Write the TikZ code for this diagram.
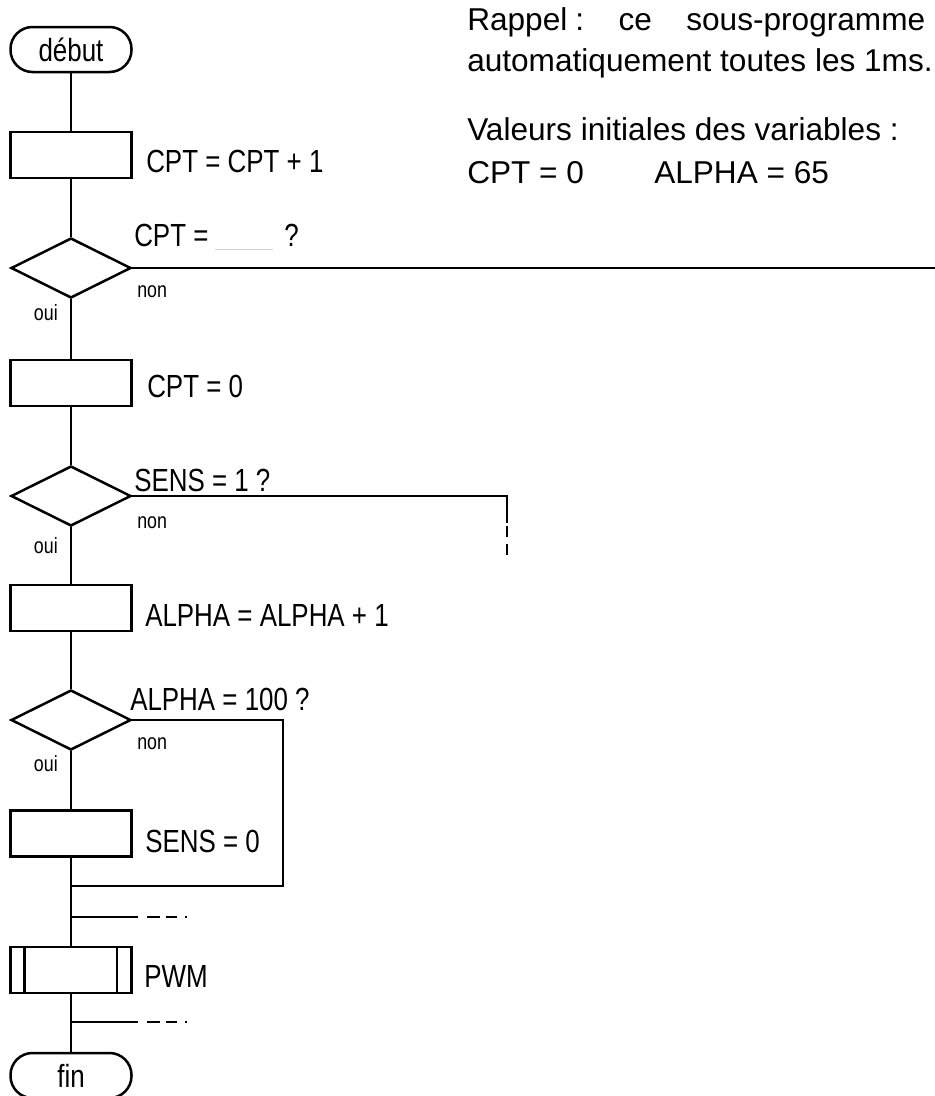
\documentclass[tikz,border=0pt]{standalone}
\usepackage{fontspec}
\setmainfont{Liberation Sans}
\newfontfamily\narrowfont[FakeStretch=0.81]{Liberation Sans}
\usetikzlibrary{shapes.geometric}
\begin{document}
\begin{tikzpicture}[x=1pt,y=-1pt,line width=2.5pt,
  proc/.style={draw,rectangle,minimum width=121pt,minimum height=46pt,inner sep=0pt},
  term/.style={draw,rectangle,rounded corners=22pt,minimum width=121pt,minimum height=45pt,inner sep=0pt,font=\narrowfont\fontsize{32}{36}\selectfont},
  test/.style={draw,diamond,minimum width=120pt,minimum height=60pt,inner sep=0pt},
  lbl/.style={anchor=base west,inner sep=0pt,font=\narrowfont\fontsize{32}{36}\selectfont},
  small/.style={inner sep=0pt,font=\narrowfont\fontsize{22}{24}\selectfont},
  note/.style={anchor=base west,inner sep=0pt,font=\fontsize{31.6}{36}\selectfont},
  brokenline/.style={dash pattern=on 13pt off 6pt on 11pt off 8pt on 2pt off 20pt},
  brokenv/.style={dash pattern=on 11pt off 7pt on 11pt off 20pt}]
\useasboundingbox (0,0) rectangle (935,1096);

% nodes of the flowchart
\node[term] (debut) at (71,49.5) {début};
\node[proc] (b1) at (71,155) {};
\node[test] (d1) at (71,268) {};
\node[proc] (b2) at (71,383) {};
\node[test] (d2) at (71,496) {};
\node[proc] (b3) at (71,608) {};
\node[test] (d3) at (71,720) {};
\node[proc] (b4) at (71,833.5) {};
\node[proc] (pwm) at (71,970) {};
\node[term] (fin) at (71,1075.5) {fin};
\draw ([xshift=15pt]pwm.north west) -- ([xshift=15pt]pwm.south west);
\draw ([xshift=-16pt]pwm.north east) -- ([xshift=-16pt]pwm.south east);

% coordinates
\coordinate (e1) at (935,268);
\coordinate (c2) at (507,496);
\coordinate (c2b) at (507,523);
\coordinate (c2c) at (507,526);
\coordinate (c2d) at (507,560);
\coordinate (c3) at (283,720);
\coordinate (c3b) at (283,886);
\coordinate (j1) at (71,886);
\coordinate (j2) at (71,917);
\coordinate (s2) at (138,917);
\coordinate (s2b) at (147,917);
\coordinate (s2c) at (200,917);
\coordinate (j3) at (71,1022);
\coordinate (s3) at (138,1022);
\coordinate (s3b) at (147,1022);
\coordinate (s3c) at (200,1022);

% connectors
\draw (debut.south) -- (b1.north);
\draw (b1.south) -- (d1.north);
\draw (d1.south) -- (b2.north);
\draw (b2.south) -- (d2.north);
\draw (d2.south) -- (b3.north);
\draw (b3.south) -- (d3.north);
\draw (d3.south) -- (b4.north);
\draw (b4.south) -- (pwm.north);
\draw (pwm.south) -- (fin.north);
\draw (d1.east) -- (e1);
\draw (d2.east) -- (c2) -- (c2b);
\draw[brokenv] (c2c) -- (c2d);
\draw (d3.east) -- (c3) -- (c3b) -- (j1);
\draw (j2) -- (s2);
\draw[brokenline] (s2b) -- (s2c);
\draw (j3) -- (s3);
\draw[brokenline] (s3b) -- (s3c);

% labels
\node[lbl] (t1) at (145,172) {CPT = CPT + 1};
\node[lbl] (q1) at (133,246) {CPT =};
\draw[gray!35,line width=1pt] (215,249) -- (273,249);
\node[lbl] (q1b) at (283,246) {?};
\node[small,anchor=west] (n1) at (136,292) {non};
\node[small,anchor=east] (o1) at (59,313) {oui};
\node[lbl] (t2) at (146,397) {CPT = 0};
\node[lbl] (q2) at (133,491) {SENS = 1 ?};
\node[small,anchor=west] (n2) at (136,523) {non};
\node[small,anchor=east] (o2) at (59,546) {oui};
\node[lbl] (t3) at (144,626) {ALPHA = ALPHA + 1};
\node[lbl] (q3) at (129,710) {ALPHA = 100 ?};
\node[small,anchor=west] (n3) at (136,744) {non};
\node[small,anchor=east] (o3) at (59,764) {oui};
\node[lbl] (t4) at (144,852) {SENS = 0};
\node[lbl] (t5) at (143,987) {PWM};

% note
\node[note] (r1) at (466,30) {\hbox to 458pt{Rappel\kern8pt:\hfill ce\hfill sous-programme}};
\node[note] (r2) at (466,71) {automatiquement toutes les 1ms.};
\node[note] (r3) at (466,140) {Valeurs initiales des variables :};
\node[note] (r4) at (466,183) {CPT = 0};
\node[note] (r5) at (653,183) {ALPHA = 65};
\end{tikzpicture}
\end{document}
